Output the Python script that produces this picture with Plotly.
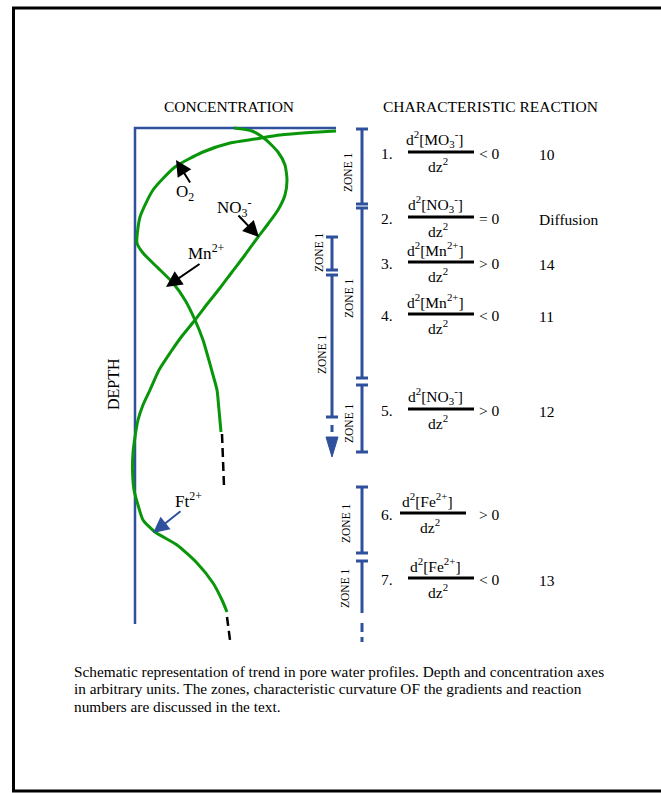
import plotly.graph_objects as go

# ---- canvas / diagram origin (pixels) ------------------------------------
W, H = 661, 793
OX, OY = 135, 128          # corner of the concentration / depth axes

def X(px):
    return px - OX

def Y(py):
    return py - OY

FONT = "Liberation Serif"
GREEN = "#0a960a"
BLUE = "#2f509c"
BLACK = "#000000"

# ---- pore-water profiles (concentration, depth; arbitrary units) ----------
O2_MN_CONC = [201, 175, 145, 120, 95, 68, 40, 18, 5, 2, 8, 22, 38, 50, 60, 68,
              73, 78, 82, 84, 86]
O2_MN_DEPTH = [3, 4.5, 7, 11, 15, 24, 39, 62, 89, 115, 125, 139, 155, 172, 192,
               212, 229, 247, 262, 282, 304]

NO3_FE_CONC = [99, 117, 130, 143, 150, 152, 150, 143, 133, 123, 110, 97, 85, 73,
               60, 47, 35, 24, 15, 8, 3, 0, -2, -2.5, -1, 3, 8, 20, 42, 62, 78,
               87, 92]
NO3_FE_DEPTH = [0, 3, 11, 24, 37, 52, 67, 82, 96, 109, 127, 144, 160, 175, 192,
                208, 225, 242, 262, 277, 292, 309, 325, 342, 362, 377, 392, 404,
                417, 435, 455, 472, 484]

# extrapolated (dashed) continuations
MN_EXT_CONC, MN_EXT_DEPTH = [87, 89], [306, 358]
FE_EXT_CONC, FE_EXT_DEPTH = [92, 95], [489, 512]

# axis extents
CONC_AXIS_END = 201
DEPTH_AXIS_END = 496

# ---- zones (depth ranges) -------------------------------------------------
ZONE_A = [(1, 76), (80, 250), (257, 324), (359, 425), (433, 485)]
ZONE_A_BOTTOM_CAP = [True, True, True, True, False]
ZONE_A_TAIL = [(495, 504), (509, 514)]
ZONE_B = [(109, 142), (147, 289)]
ZONE_B_TAIL = [(297, 304)]
ZONE_B_ARROW = (309, 329)
ZONE_LABEL = "ZONE 1"

# ---- characteristic reactions --------------------------------------------
EQ_NUMBERS = ["1.", "2.", "3.", "4.", "5.", "6.", "7."]
EQ_NUMERATORS = [
    "d<sup>2</sup>[MO<sub>3</sub><sup>-</sup>]",
    "d<sup>2</sup>[NO<sub>3</sub><sup>-</sup>]",
    "d<sup>2</sup>[Mn<sup>2+</sup>]",
    "d<sup>2</sup>[Mn<sup>2+</sup>]",
    "d<sup>2</sup>[NO<sub>3</sub><sup>-</sup>]",
    "d<sup>2</sup>[Fe<sup>2+</sup>]",
    "d<sup>2</sup>[Fe<sup>2+</sup>]",
]
EQ_DENOMINATOR = "dz<sup>2</sup>"
EQ_SIGNS = ["< 0", "= 0", "> 0", "< 0", "> 0", "> 0", "< 0"]
EQ_REFS = ["10", "Diffusion", "14", "11", "12", "", "13"]

CAPTION = [
    "Schematic representation of trend in pore water profiles. Depth and concentration axes",
    "in arbitrary units. The zones, characteristic curvature OF the gradients and reaction",
    "numbers are discussed in the text.",
]

fig = go.Figure()

# concentration / depth axes of the schematic
fig.add_trace(go.Scatter(
    x=[CONC_AXIS_END, 0, 0], y=[0, 0, DEPTH_AXIS_END], mode="lines",
    line=dict(color=BLUE, width=2.5), hoverinfo="skip"))

# profiles
for cx, dy in [(O2_MN_CONC, O2_MN_DEPTH), (NO3_FE_CONC, NO3_FE_DEPTH)]:
    fig.add_trace(go.Scatter(
        x=cx, y=dy, mode="lines", line=dict(color=GREEN, width=3, shape="spline",
                                            smoothing=0.6),
        hoverinfo="skip"))
for cx, dy in [(MN_EXT_CONC, MN_EXT_DEPTH), (FE_EXT_CONC, FE_EXT_DEPTH)]:
    fig.add_trace(go.Scatter(
        x=cx, y=dy, mode="lines", line=dict(color=BLACK, width=2.5, dash="9px,5px"),
        hoverinfo="skip"))

# zone bars
COL_A, COL_B, CAP = X(362), X(332), 6


def zone_traces(col, ranges, bottom_caps):
    bx, by, cx, cy = [], [], [], []
    for (top, bot), bcap in zip(ranges, bottom_caps):
        bx += [col, col, None]
        by += [top, bot, None]
        cx += [col - CAP, col + CAP, None]
        cy += [top, top, None]
        if bcap:
            cx += [col - CAP, col + CAP, None]
            cy += [bot, bot, None]
    fig.add_trace(go.Scatter(x=bx, y=by, mode="lines",
                             line=dict(color=BLUE, width=3), hoverinfo="skip"))
    fig.add_trace(go.Scatter(x=cx, y=cy, mode="lines",
                             line=dict(color=BLUE, width=3), hoverinfo="skip"))


zone_traces(COL_A, ZONE_A, ZONE_A_BOTTOM_CAP)
zone_traces(COL_B, ZONE_B, [True] * len(ZONE_B))

tx, ty = [], []
for col, tails in [(COL_A, ZONE_A_TAIL), (COL_B, ZONE_B_TAIL)]:
    for top, bot in tails:
        tx += [col, col, None]
        ty += [top, bot, None]
fig.add_trace(go.Scatter(x=tx, y=ty, mode="lines",
                         line=dict(color=BLUE, width=3), hoverinfo="skip"))
a_top, a_bot = ZONE_B_ARROW
fig.add_trace(go.Scatter(
    x=[COL_B - 6, COL_B + 6, COL_B, COL_B - 6], y=[a_top, a_top, a_bot, a_top],
    mode="lines", fill="toself", fillcolor=BLUE, line=dict(color=BLUE, width=1),
    hoverinfo="skip"))

ann = []


def text(px, py, s, size=15, angle=0, xanchor="center", color=BLACK):
    ann.append(dict(x=X(px), y=Y(py), text=s, showarrow=False, textangle=angle,
                    xanchor=xanchor, yanchor="middle",
                    font=dict(family=FONT, size=size, color=color)))


# zone labels
for px, py in [(348, 172), (349, 298), (349, 423), (346, 523), (345, 588),
               (319, 252), (322, 354)]:
    text(px, py, ZONE_LABEL, size=11.5, angle=-90)

# headings
text(229, 106, "CONCENTRATION", size=15.5)
text(490, 106, "CHARACTERISTIC REACTION", size=15.5)
text(113, 384, "DEPTH", size=16, angle=-90)

# profile labels
text(185, 193, "O<sub>2</sub>", size=17)
text(234, 207, "NO<sub>3</sub><sup>-</sup>", size=17)
text(206, 252, "Mn<sup>2+</sup>", size=17)
text(188, 500, "Ft<sup>2+</sup>", size=17)

# arrows (tip, tail)
ARROWS = [((176, 160), (191, 184), BLACK), ((259, 237), (237, 214), BLACK),
          ((166, 287), (201, 263), BLACK), ((153, 533), (182, 510), BLUE)]
for (hx, hy), (sx, sy), c in ARROWS:
    ann.append(dict(x=X(hx), y=Y(hy), ax=X(sx), ay=Y(sy), axref="x", ayref="y",
                    xref="x", yref="y", text="", showarrow=True, arrowhead=2,
                    arrowsize=1.6, arrowwidth=2, arrowcolor=c))

# reactions
EQ_BAR_Y = [152, 217, 262, 314, 409, 513, 578]
EQ_BAR_X0 = [408, 408, 408, 408, 408, 400, 408]
EQ_BAR_LEN = 66
shapes = []
for i, by in enumerate(EQ_BAR_Y):
    x0 = EQ_BAR_X0[i]
    xc = x0 + EQ_BAR_LEN / 2
    shapes.append(dict(type="line", xref="x", yref="y", x0=X(x0), x1=X(x0 + EQ_BAR_LEN),
                       y0=Y(by), y1=Y(by), line=dict(color=BLACK, width=3)))
    text(387, by + 1, EQ_NUMBERS[i], size=15.5)
    text(xc - 6, by - 13, EQ_NUMERATORS[i], size=15.5)
    text(xc - 3, by + 13, EQ_DENOMINATOR, size=15.5)
    text(489, by + 1, EQ_SIGNS[i], size=15.5)
    if EQ_REFS[i]:
        text(537, by + 2, EQ_REFS[i], size=15.5, xanchor="left")

# caption
for i, line in enumerate(CAPTION):
    text(72, 671 + 17.5 * i, line, size=15.3, xanchor="left")

# page frame
shapes.append(dict(type="rect", xref="x", yref="y", x0=X(13.5), x1=X(700),
                   y0=Y(8), y1=Y(791), line=dict(color=BLACK, width=3)))

fig.update_layout(
    width=W, height=H, margin=dict(l=0, r=0, t=0, b=0),
    paper_bgcolor="white", plot_bgcolor="white", showlegend=False,
    xaxis=dict(range=[X(0), X(W)], visible=False, fixedrange=True),
    yaxis=dict(range=[Y(H), Y(0)], visible=False, fixedrange=True),
    annotations=ann, shapes=shapes,
)

fig.write_html("out.html")
